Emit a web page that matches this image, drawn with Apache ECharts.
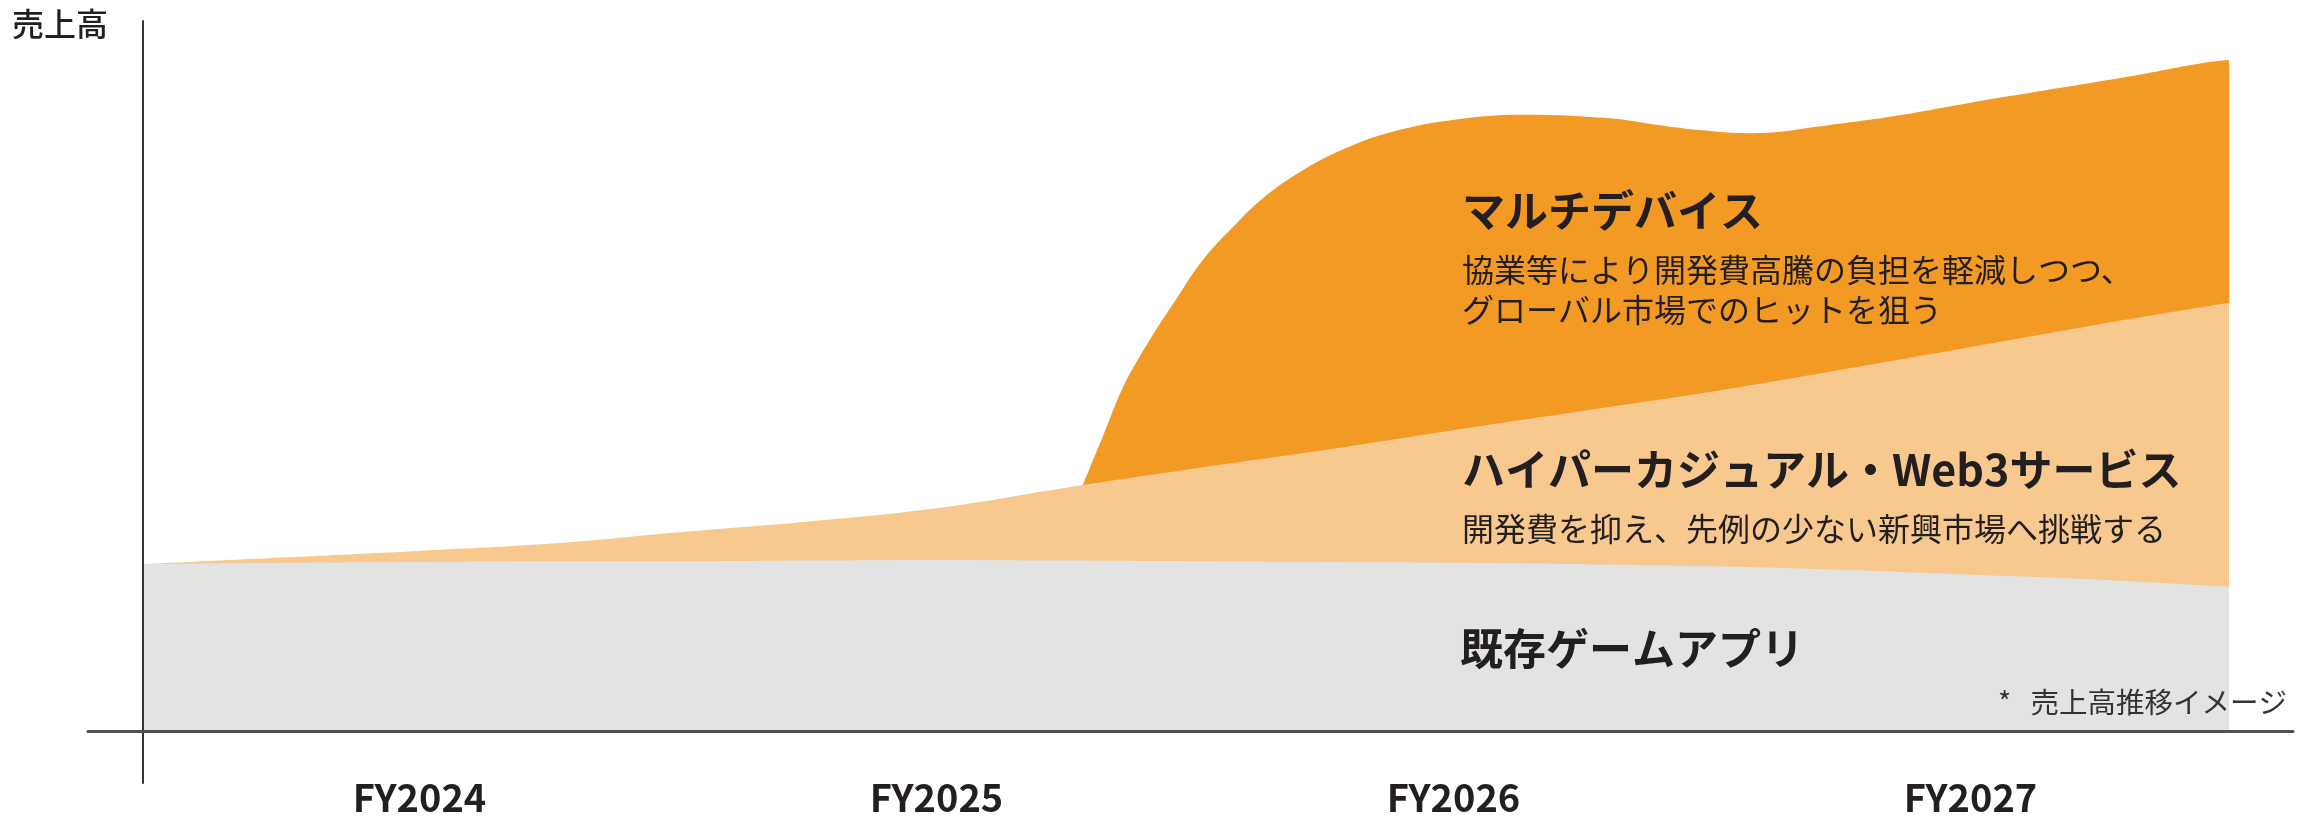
<!DOCTYPE html>
<html lang="ja">
<head>
<meta charset="utf-8">
<title>売上高推移イメージ</title>
<script src="https://cdn.jsdelivr.net/npm/echarts@6/dist/echarts.min.js"></script>
<style>
  html, body { margin: 0; padding: 0; background: #ffffff; }
  #chart { width: 2305px; height: 819px; }
</style>
</head>
<body>
<div id="chart"></div>
<script>
// Fiscal-year labels along the bottom
const fiscalYears = ['FY2024', 'FY2025', 'FY2026', 'FY2027'];

// Positions on the timeline (fiscal years, fractional) for the base bands
const timeline = [2023.46, 2023.75, 2024.0, 2024.25, 2024.5, 2024.75, 2025.0, 2025.25,
                  2025.5, 2025.75, 2026.0, 2026.25, 2026.5, 2026.75, 2027.0, 2027.25, 2027.5];

// 既存ゲームアプリ: revenue image (index, 0–100)
const existingApps = [23.5, 23.7, 23.8, 23.9, 23.9, 24.0, 24.1, 24.0,
                      23.9, 23.8, 23.7, 23.5, 23.2, 22.7, 22.0, 21.3, 20.3];

// ハイパーカジュアル・Web3サービス: upper edge of the cumulative band
const hyperCasualTop = [23.5, 24.5, 25.4, 26.4, 28.0, 29.5, 31.4, 34.3,
                        37.0, 39.6, 42.4, 45.1, 47.8, 50.9, 54.1, 57.3, 60.3];

// マルチデバイス: starts mid FY2025, upper edge of the cumulative band
const multiDeviceYears = [2025.28, 2025.32, 2025.36, 2025.41, 2025.46, 2025.51, 2025.57,
                          2025.63, 2025.70, 2025.78, 2025.88, 2026.0, 2026.13, 2026.3,
                          2026.39, 2026.48, 2026.57, 2026.63, 2026.7, 2026.85, 2027.0,
                          2027.15, 2027.3, 2027.45, 2027.5];
const multiDeviceTop = [34.6, 41.7, 48.7, 55.1, 60.7, 66.1, 70.9,
                        75.1, 78.7, 81.8, 84.4, 86.1, 86.8, 86.3,
                        85.4, 84.6, 84.2, 84.4, 85.1, 86.6, 88.5,
                        90.3, 92.1, 94.1, 94.5];

const FONT = '"Noto Sans CJK JP", "Noto Sans", sans-serif';
const TEXT = '#231f20';
const COLORS = { multi: '#f29a23', hyper: '#f7c98e', existing: '#e3e3e3' };

const pairs = (xs, ys) => xs.map((x, i) => [x, ys[i]]);

const chart = echarts.init(document.getElementById('chart'), null, { renderer: 'canvas' });

const hiddenValueAxis = (gridIndex, extra) => Object.assign({
  type: 'value', gridIndex, show: false, splitLine: { show: false }
}, extra || {});

const bandSeries = (name, data, color, smooth) => ({
  name, type: 'line', xAxisIndex: 0, yAxisIndex: 0, data,
  smooth, showSymbol: false, symbol: 'none',
  lineStyle: { width: 0 }, areaStyle: { color, opacity: 1 },
  silent: true, animation: false
});

chart.setOption({
  backgroundColor: '#ffffff',
  animation: false,
  grid: [
    // plot area for the bands
    { left: 143, top: 21, width: 2086, height: 710 },
    // long baseline
    { left: 88, top: 21, width: 2205, height: 710 },
    // vertical axis line running below the baseline
    { left: 143, top: 21, width: 100, height: 762 },
    // fiscal-year label band
    { left: 161, top: 21, width: 2068, height: 710 }
  ],
  xAxis: [
    hiddenValueAxis(0, { min: 2023.46, max: 2027.5 }),
    { type: 'value', gridIndex: 1, z: 10, min: 0, max: 1,
      axisLine: { show: true, onZero: false, lineStyle: { color: '#505050', width: 3 } },
      axisTick: { show: false }, axisLabel: { show: false }, splitLine: { show: false } },
    hiddenValueAxis(2),
    { type: 'category', gridIndex: 3, data: fiscalYears, boundaryGap: true,
      axisLine: { show: false }, axisTick: { show: false }, splitLine: { show: false },
      axisLabel: { show: true, margin: 48, color: TEXT, fontFamily: FONT,
                   fontSize: 38, fontWeight: 'bold' } }
  ],
  yAxis: [
    hiddenValueAxis(0, { min: 0, max: 100 }),
    hiddenValueAxis(1),
    { type: 'value', gridIndex: 2, z: 10,
      axisLine: { show: true, lineStyle: { color: '#333333', width: 2 } },
      axisTick: { show: false }, axisLabel: { show: false }, splitLine: { show: false } },
    hiddenValueAxis(3)
  ],
  series: [
    bandSeries('マルチデバイス', pairs(multiDeviceYears, multiDeviceTop), COLORS.multi, 0.4),
    bandSeries('ハイパーカジュアル・Web3サービス', pairs(timeline, hyperCasualTop), COLORS.hyper, 0.4),
    bandSeries('既存ゲームアプリ', pairs(timeline, existingApps), COLORS.existing, 0.4)
  ],
  graphic: [
    { type: 'text', x: 12, y: 24, z: 20,
      style: { text: '売上高', fill: TEXT, font: '500 32px ' + FONT, verticalAlign: 'middle' } },
    { type: 'text', x: 1462, y: 211, z: 20,
      style: { text: 'マルチデバイス', fill: TEXT, font: 'bold 43px ' + FONT, verticalAlign: 'middle' } },
    { type: 'text', x: 1462, y: 290, z: 20,
      style: { text: '協業等により開発費高騰の負担を軽減しつつ、\nグローバル市場でのヒットを狙う',
               fill: TEXT, font: '32px ' + FONT, lineHeight: 40, verticalAlign: 'middle' } },
    { type: 'text', x: 1462, y: 470, z: 20,
      style: { text: 'ハイパーカジュアル・Web3サービス', fill: TEXT, font: 'bold 43px ' + FONT, verticalAlign: 'middle' } },
    { type: 'text', x: 1462, y: 529, z: 20,
      style: { text: '開発費を抑え、先例の少ない新興市場へ挑戦する', fill: TEXT, font: '32px ' + FONT, verticalAlign: 'middle' } },
    { type: 'text', x: 1460, y: 649, z: 20,
      style: { text: '既存ゲームアプリ', fill: TEXT, font: 'bold 43px ' + FONT, verticalAlign: 'middle' } },
    { type: 'text', x: 2287, y: 702, z: 20,
      style: { text: '*   売上高推移イメージ', fill: '#333333', font: '28.5px ' + FONT,
               align: 'right', verticalAlign: 'middle' } }
  ]
});
</script>
</body>
</html>
